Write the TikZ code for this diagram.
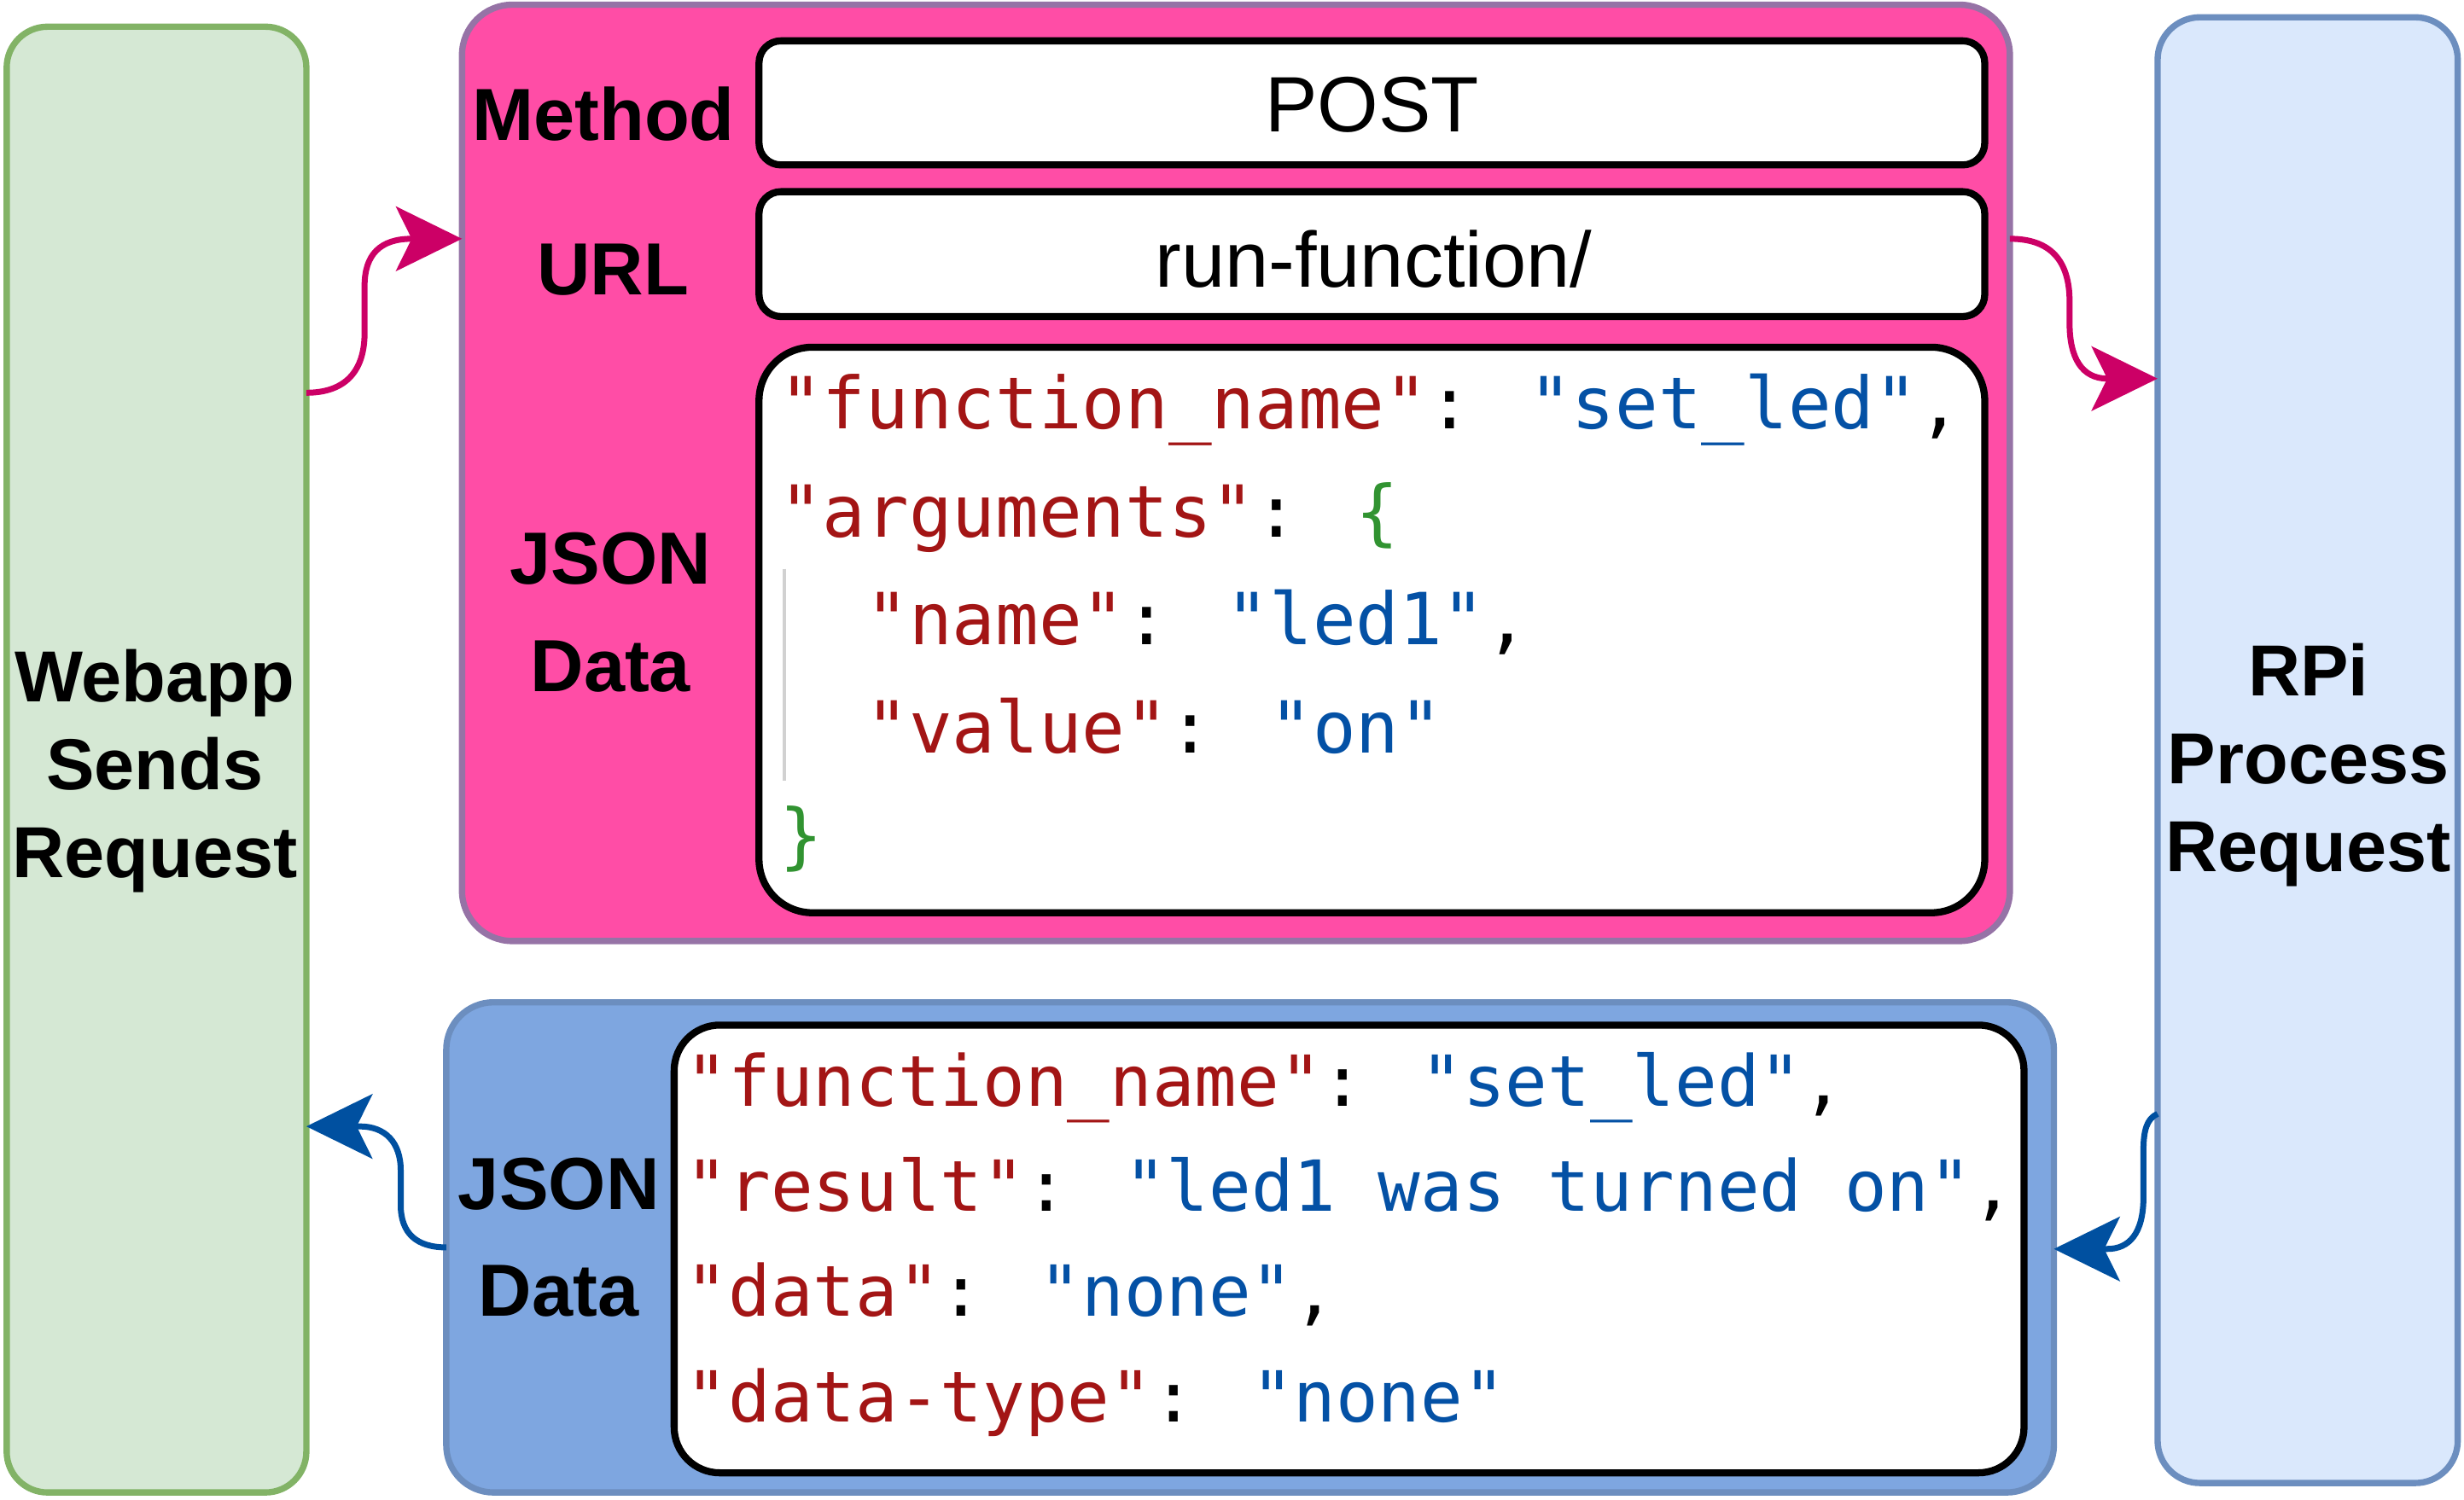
\documentclass[tikz,border=0pt]{standalone}
\usepackage{fontspec}
\setmainfont{Liberation Sans}
\newfontfamily\codefont{DejaVu Sans Mono}
\usetikzlibrary{arrows.meta}
\definecolor{gfill}{HTML}{D5E8D4}
\definecolor{gline}{HTML}{82B366}
\definecolor{pfill}{HTML}{FF4DA6}
\definecolor{pline}{HTML}{9673A6}
\definecolor{bfill}{HTML}{DAE8FC}
\definecolor{bline}{HTML}{6C8EBF}
\definecolor{dfill}{HTML}{7EA6E0}
\definecolor{parr}{HTML}{CC0066}
\definecolor{barr}{HTML}{0050A0}
\definecolor{jkey}{HTML}{A31515}
\definecolor{jval}{HTML}{0451A5}
\definecolor{jbr}{HTML}{319331}
\newcommand{\jk}[1]{\textcolor{jkey}{#1}}
\newcommand{\jv}[1]{\textcolor{jval}{#1}}
\newcommand{\jb}[1]{\textcolor{jbr}{#1}}
\begin{document}
\begin{tikzpicture}[x=1pt,y=-1pt,
  box/.style={rectangle, rounded corners=#1, inner sep=0pt, outer sep=0pt, line width=4pt},
  codebox/.style={box=#1, draw=black, fill=white, line width=4.5pt},
  lab/.style={inner sep=0pt, outer sep=0pt, font=\bfseries\fontsize{47pt}{68pt}\selectfont},
  biglab/.style={inner sep=0pt, outer sep=0pt, font=\bfseries\fontsize{46pt}{56pt}\selectfont},
  val/.style={inner sep=0pt, outer sep=0pt, font=\fontsize{50pt}{60pt}\selectfont},
  code/.style={inner sep=0pt, outer sep=0pt, anchor=base west},
  parrow/.style={draw=parr, line width=3.8pt, -{Stealth[length=42pt,width=41pt,inset=10pt]}},
  barrow/.style={draw=barr, line width=3.8pt, -{Stealth[length=42pt,width=41pt,inset=10pt]}}
]
\useasboundingbox (0,0) rectangle (1568,954.8);
\renewcommand{\arraystretch}{1}

% left: webapp
\node[box=26pt, draw=gline, fill=gfill, minimum width=190.7pt, minimum height=933pt] (green) at (99.6,483.5) {};
\node[biglab, anchor=base] (webtxt) at (98.5,446.5) {\begin{tabular}[t]{@{}c@{}}Webapp\\Sends\\Request\end{tabular}};

% right: RPi
\node[box=27pt, draw=bline, fill=bfill, minimum width=191pt, minimum height=933pt] (rpi) at (1468.5,477.5) {};
\node[biglab, anchor=base] (rpitxt) at (1469,442.7) {\begin{tabular}[t]{@{}c@{}}RPi\\Process\\Request\end{tabular}};

% request box
\node[box=32pt, draw=pline, fill=pfill, minimum width=985pt, minimum height=596pt] (req) at (786.5,301) {};
\node[codebox=14pt, minimum width=780pt, minimum height=79pt] (postbox) at (873,65.5) {};
\node[codebox=14pt, minimum width=780pt, minimum height=79.5pt] (urlbox) at (873,161.75) {};
\node[codebox=34pt, minimum width=780pt, minimum height=360pt] (reqjson) at (873,401) {};
\node[lab, anchor=base] (methodlab) at (384,89.6) {Method};
\node[lab, anchor=base] (urllab) at (390,187.4) {URL};
\node[lab, anchor=base] (jsonlab1) at (388.5,372) {\begin{tabular}[t]{@{}c@{}}JSON\\Data\end{tabular}};
\node[val, anchor=base] (posttxt) at (873,84) {POST};
\node[val, anchor=base] (urltxt) at (874,183) {run-function/};
\draw[draw=black!18, line width=2pt] (499,362) -- (499,497);
\node[code] (reqcode) at (496,273) {\codefont\fontsize{45.7pt}{68.7pt}\selectfont
\begin{tabular}[t]{@{}l@{}}
\jk{"function\_name"}: \jv{"set\_led"},\\
\jk{"arguments"}: \jb{\{}\\
\phantom{xx}\jk{"name"}: \jv{"led1"},\\
\phantom{xx}\jk{"value"}: \jv{"on"}\\
\jb{\}}
\end{tabular}};

% response box
\node[box=30pt, draw=bline, fill=dfill, minimum width=1023pt, minimum height=312pt] (resp) at (795.5,794) {};
\node[codebox=29pt, minimum width=859pt, minimum height=285pt] (respjson) at (858.5,795) {};
\node[lab, anchor=base] (jsonlab2) at (355.6,770) {\begin{tabular}[t]{@{}c@{}}JSON\\Data\end{tabular}};
\node[code] (respcode) at (436.6,704) {\codefont\fontsize{44.8pt}{67pt}\selectfont
\begin{tabular}[t]{@{}l@{}}
\jk{"function\_name"}: \jv{"set\_led"},\\
\jk{"result"}: \jv{"led1 was turned on"},\\
\jk{"data"}: \jv{"none"},\\
\jk{"data-type"}: \jv{"none"}
\end{tabular}};

% connectors
\draw[parrow] (green.east |- 0,250) .. controls (220,250) and (232,236) .. (232,212) -- (232,182) .. controls (232,162) and (242,152) .. (262,152) -- (req.west |- 0,152);
\draw[parrow] (req.east |- 0,152) .. controls (1305,152) and (1317,166) .. (1317,192) -- (1317,206) .. controls (1317,228) and (1325,241) .. (1341,241) -- (rpi.west |- 0,241);
\draw[barrow] (rpi.west |- 0,709) .. controls (1366,712) and (1364,720) .. (1364,732) -- (1364,762) .. controls (1364,785) and (1355,795) .. (1341,795) -- (resp.east |- 0,795);
\draw[barrow] (resp.west |- 0,794) .. controls (265,794) and (255,785) .. (255,767) -- (255,745) .. controls (255,727) and (245,717) .. (229,717) -- (green.east |- 0,717);
\end{tikzpicture}
\end{document}
